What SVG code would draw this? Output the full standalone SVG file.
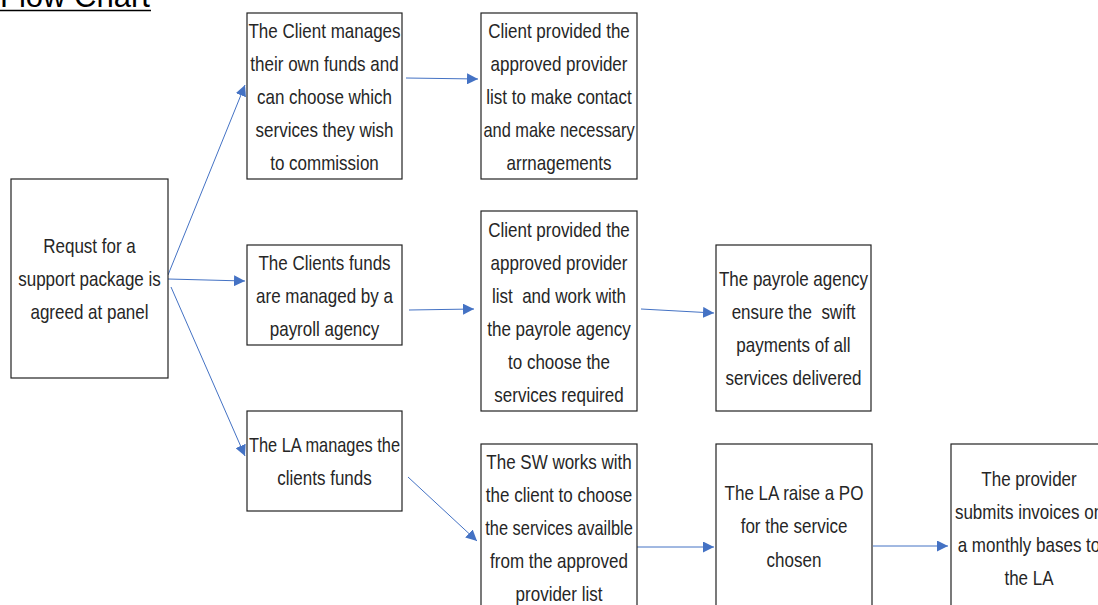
<svg xmlns="http://www.w3.org/2000/svg" width="1098" height="605" viewBox="0 0 1098 605">
<defs>
<marker id="arr" viewBox="0 0 10 10" refX="10" refY="5" markerWidth="11" markerHeight="11" markerUnits="userSpaceOnUse" orient="auto">
<path d="M0,0 L10,5 L0,10 z" fill="#4472C4"/>
</marker>
<style>
.box{fill:#fff;stroke:#222;stroke-width:1.2}
.t{font-family:"Liberation Sans",Arial,sans-serif;font-size:20px;fill:#262626;text-anchor:middle}
.c{stroke:#4472C4;stroke-width:1;fill:none;marker-end:url(#arr)}
</style>
</defs>
<rect width="1098" height="605" fill="#fff"/>
<g id="title">
<text x="0" y="7" font-family="Liberation Sans, Arial, sans-serif" font-size="31" fill="#000">Flow Chart</text>
<line x1="0" y1="10.5" x2="151" y2="10.5" stroke="#000" stroke-width="1.6"/>
</g>
<g id="connectors">
<line class="c" x1="168" y1="275" x2="245" y2="85"/>
<line class="c" x1="168" y1="279" x2="245" y2="281"/>
<line class="c" x1="171" y1="287" x2="245" y2="456"/>
<line class="c" x1="406" y1="78" x2="478" y2="79"/>
<line class="c" x1="409" y1="310" x2="474" y2="309"/>
<line class="c" x1="641" y1="309" x2="714" y2="313"/>
<line class="c" x1="408" y1="477" x2="477" y2="541"/>
<line class="c" x1="637" y1="547" x2="714" y2="547"/>
<line class="c" x1="873" y1="546" x2="948" y2="546"/>
</g>
<g id="nodeA">
<rect class="box" x="11" y="179" width="157" height="199"/>
<text class="t" transform="translate(89.5 253) scale(0.85 1)">Requst for a</text>
<text class="t" transform="translate(89.5 286) scale(0.85 1)">support package is</text>
<text class="t" transform="translate(89.5 319) scale(0.85 1)">agreed at panel</text>
</g>
<g id="nodeB1">
<rect class="box" x="247" y="13" width="155" height="166"/>
<text class="t" transform="translate(324.5 38) scale(0.85 1)">The Client manages</text>
<text class="t" transform="translate(324.5 71) scale(0.85 1)">their own funds and</text>
<text class="t" transform="translate(324.5 104) scale(0.85 1)">can choose which</text>
<text class="t" transform="translate(324.5 137) scale(0.85 1)">services they wish</text>
<text class="t" transform="translate(324.5 170) scale(0.85 1)">to commission</text>
</g>
<g id="nodeC1">
<rect class="box" x="481" y="13" width="156" height="166"/>
<text class="t" transform="translate(559 38) scale(0.85 1)">Client provided the</text>
<text class="t" transform="translate(559 71) scale(0.85 1)">approved provider</text>
<text class="t" transform="translate(559 104) scale(0.85 1)">list to make contact</text>
<text class="t" transform="translate(559 137) scale(0.82 1)">and make necessary</text>
<text class="t" transform="translate(559 170) scale(0.85 1)">arrnagements</text>
</g>
<g id="nodeB2">
<rect class="box" x="247" y="245" width="155" height="100"/>
<text class="t" transform="translate(324.5 270) scale(0.85 1)">The Clients funds</text>
<text class="t" transform="translate(324.5 303) scale(0.85 1)">are managed by a</text>
<text class="t" transform="translate(324.5 336) scale(0.85 1)">payroll agency</text>
</g>
<g id="nodeC2">
<rect class="box" x="481" y="211" width="156" height="200"/>
<text class="t" transform="translate(559 237) scale(0.85 1)">Client provided the</text>
<text class="t" transform="translate(559 270) scale(0.85 1)">approved provider</text>
<text class="t" transform="translate(559 303) scale(0.85 1)" xml:space="preserve">list  and work with</text>
<text class="t" transform="translate(559 336) scale(0.85 1)">the payrole agency</text>
<text class="t" transform="translate(559 369) scale(0.85 1)">to choose the</text>
<text class="t" transform="translate(559 402) scale(0.85 1)">services required</text>
</g>
<g id="nodeD2">
<rect class="box" x="716" y="245" width="155" height="166"/>
<text class="t" transform="translate(793.5 286) scale(0.85 1)">The payrole agency</text>
<text class="t" transform="translate(793.5 319) scale(0.85 1)" xml:space="preserve">ensure the  swift</text>
<text class="t" transform="translate(793.5 352) scale(0.85 1)">payments of all</text>
<text class="t" transform="translate(793.5 385) scale(0.85 1)">services delivered</text>
</g>
<g id="nodeB3">
<rect class="box" x="247" y="411" width="155" height="100"/>
<text class="t" transform="translate(324.5 452) scale(0.82 1)">The LA manages the</text>
<text class="t" transform="translate(324.5 485) scale(0.85 1)">clients funds</text>
</g>
<g id="nodeC3">
<rect class="box" x="481" y="444" width="156" height="170"/>
<text class="t" transform="translate(559 469) scale(0.85 1)">The SW works with</text>
<text class="t" transform="translate(559 502) scale(0.85 1)">the client to choose</text>
<text class="t" transform="translate(559 535) scale(0.82 1)">the services availble</text>
<text class="t" transform="translate(559 568) scale(0.85 1)">from the approved</text>
<text class="t" transform="translate(559 601) scale(0.85 1)">provider list</text>
</g>
<g id="nodeD3">
<rect class="box" x="716" y="444" width="156" height="170"/>
<text class="t" transform="translate(794 500) scale(0.85 1)">The LA raise a PO</text>
<text class="t" transform="translate(794 533) scale(0.85 1)">for the service</text>
<text class="t" transform="translate(794 567) scale(0.85 1)">chosen</text>
</g>
<g id="nodeE3">
<rect class="box" x="951" y="444" width="156" height="170"/>
<text class="t" transform="translate(1029 486) scale(0.85 1)">The provider</text>
<text class="t" transform="translate(1029 519) scale(0.85 1)">submits invoices on</text>
<text class="t" transform="translate(1029 552) scale(0.85 1)">a monthly bases to</text>
<text class="t" transform="translate(1029 585) scale(0.85 1)">the LA</text>
</g>
</svg>
